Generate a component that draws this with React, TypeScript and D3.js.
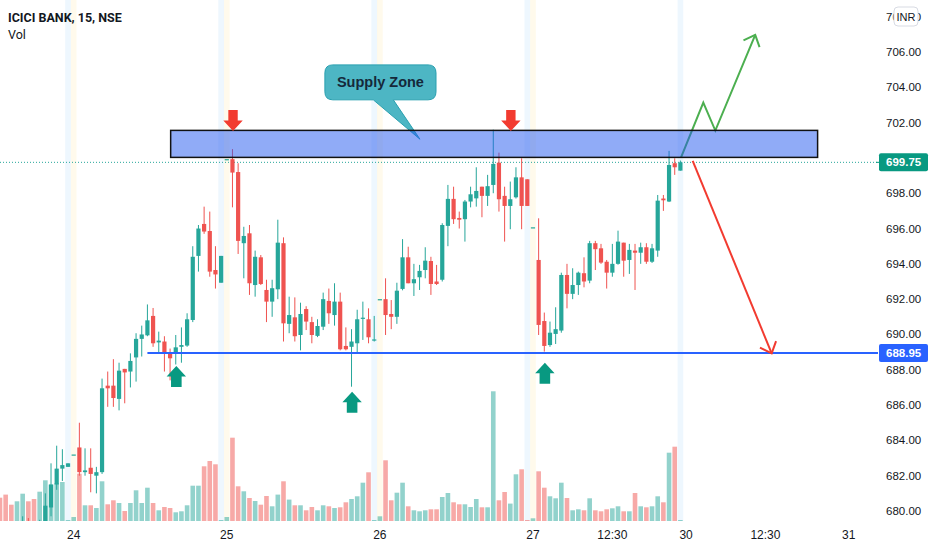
import React from "react";
import * as d3 from "d3";

// ---------- DATA (15-min bars, bar index 0 = 24th 09:00) ----------
const FIRST_BAR = -13;
const opens = [
  679.0, 678.7, 678.3, 678.0, 678.6, 679.3, 678.9, 678.7, 679.4, 680.2,
  681.5, 682.4, 682.5, 683.2, 683.6, 682.2, 682.45, 682.0, 682.2, 687.1,
  687.1, 686.35, 688.05, 687.9, 688.7, 689.75, 689.95, 691.05, 689.55, 689.6,
  688.95, 688.93, 689.3, 689.37, 690.82, 694.45, 696.26, 695.86, 693.65, 692.93,
  699.93, 699.93, 699.2, 695.17, 695.73, 692.8, 694.37, 692.52, 691.86, 692.56,
  695.17, 690.6, 690.97, 689.97, 691.44, 690.7, 689.92, 690.44, 691.9, 691.1,
  691.86, 689.35, 689.3, 689.5, 690.9, 690.86, 689.65, 692.0, 692.0, 691.16,
  691.0, 692.58, 694.37, 692.9, 693.24, 693.65, 694.16, 693.0, 693.1, 696.15,
  697.68, 696.6, 696.53, 697.53, 697.71, 698.37, 697.85, 698.47, 699.73, 697.85,
  697.28, 697.77, 698.9, 698.79, 696.07, 694.22, 690.76, 689.4, 690.03, 690.22,
  693.37, 692.3, 692.8, 693.47, 693.05, 695.17, 694.88, 694.12, 693.5, 694.0,
  695.2, 694.22, 694.75, 694.63, 694.94, 694.12, 694.75, 697.7, 697.53, 699.7,
  699.28,
];
const highs = [
  679.2, 679.0, 678.6, 678.9, 679.7, 679.6, 679.2, 679.5, 681.0, 682.7,
  683.7, 683.5, 682.7, 683.2, 685.0, 683.55, 683.55, 682.5, 687.5, 687.9,
  688.6, 688.4, 688.05, 688.93, 690.07, 690.5, 691.7, 691.5, 690.16, 689.9,
  689.2, 689.97, 690.4, 691.2, 695.0, 696.2, 697.24, 696.96, 695.0, 694.45,
  699.93, 700.5, 699.7, 696.1, 696.2, 694.75, 694.5, 693.1, 693.1, 696.5,
  695.5, 692.14, 692.1, 691.8, 691.6, 691.0, 690.86, 692.37, 692.6, 692.9,
  692.37, 690.4, 690.3, 691.4, 691.86, 691.48, 691.05, 692.0, 693.18, 691.95,
  692.93, 695.4, 694.97, 694.0, 693.94, 694.94, 694.4, 693.94, 696.3, 698.47,
  698.37, 696.96, 697.62, 698.37, 699.47, 698.37, 699.04, 701.6, 700.3, 698.37,
  698.66, 699.47, 699.98, 698.79, 696.07, 696.58, 691.24, 690.73, 691.54, 693.5,
  694.0, 693.75, 693.56, 694.37, 695.3, 695.3, 695.13, 694.22, 695.13, 695.88,
  695.2, 695.13, 695.13, 695.2, 695.17, 695.13, 697.9, 697.9, 700.4, 699.98,
  699.85,
];
const lows = [
  678.4, 678.0, 677.8, 677.9, 678.5, 678.7, 678.5, 678.6, 679.2, 679.7,
  681.2, 681.7, 682.5, 683.2, 682.0, 682.0, 681.06, 681.0, 682.1, 685.9,
  685.9, 685.7, 686.1, 687.0, 687.33, 688.75, 689.9, 689.3, 688.93, 687.9,
  687.4, 688.3, 688.4, 689.3, 690.7, 693.56, 695.7, 693.27, 692.6, 692.93,
  699.93, 697.2, 694.56, 693.18, 692.24, 692.14, 692.8, 690.7, 691.0, 692.0,
  689.6, 690.07, 689.6, 689.1, 690.25, 689.5, 689.85, 690.25, 690.6, 690.5,
  689.1, 689.1, 687.04, 688.93, 689.69, 689.5, 689.6, 692.0, 689.97, 690.3,
  690.6, 692.5, 692.9, 692.18, 692.52, 693.18, 692.24, 692.8, 693.0, 695.0,
  696.26, 696.0, 695.26, 697.2, 697.24, 696.64, 697.28, 698.0, 696.96, 695.26,
  695.96, 697.7, 695.96, 697.28, 696.07, 689.97, 689.03, 689.3, 689.46, 690.1,
  691.48, 692.0, 692.24, 692.67, 692.9, 693.65, 694.0, 692.6, 693.27, 693.95,
  693.27, 693.43, 692.52, 694.0, 694.0, 694.05, 694.4, 697.0, 697.5, 699.04,
  699.28,
];
const closes = [
  678.6, 678.3, 678.0, 678.6, 679.3, 678.9, 678.7, 679.4, 680.3, 681.5,
  682.4, 682.6, 682.7, 683.2, 682.2, 682.3, 682.1, 682.2, 686.95, 686.95,
  686.4, 687.95, 687.85, 688.5, 689.75, 690.0, 690.8, 689.5, 689.65, 688.95,
  688.65, 689.27, 689.4, 690.86, 694.4, 696.0, 695.83, 693.56, 693.4, 694.45,
  699.93, 699.17, 695.3, 695.58, 692.9, 694.4, 692.86, 691.86, 692.62, 695.2,
  690.63, 691.1, 689.9, 691.16, 690.73, 689.97, 690.48, 692.0, 691.2, 691.86,
  689.16, 689.16, 689.6, 690.86, 690.95, 689.84, 689.72, 692.0, 691.1, 691.0,
  692.48, 694.37, 692.9, 693.13, 693.6, 694.18, 692.86, 692.86, 696.2, 697.68,
  696.53, 696.5, 697.53, 697.94, 698.13, 697.85, 698.4, 699.66, 697.66, 697.28,
  697.66, 698.9, 697.28, 697.28, 696.07, 690.54, 689.35, 690.1, 690.3, 693.37,
  692.3, 692.8, 693.5, 693.0, 695.17, 694.83, 694.07, 693.5, 694.0, 695.26,
  694.18, 694.79, 694.63, 694.94, 694.12, 694.88, 697.58, 697.6, 699.6, 699.47,
  699.75,
];
const volumes = [
  233, 264, 163, 197, 273, 197, 220, 293, 407, 364,
  380, 390, 10, 40, 473, 157, 157, 130, 397, 167,
  207, 180, 100, 180, 307, 180, 333, 180, 107, 140,
  130, 87, 97, 157, 353, 353, 547, 600, 567, 10,
  40, 833, 347, 297, 230, 200, 163, 250, 147, 264,
  397, 214, 157, 157, 107, 140, 107, 157, 147, 130,
  137, 187, 220, 247, 383, 487, 10, 47, 607, 207,
  283, 383, 147, 107, 97, 107, 117, 117, 240, 280,
  187, 167, 167, 140, 220, 137, 137, 1297, 207, 290,
  174, 467, 517, 10, 27, 497, 333, 247, 227, 383,
  230, 107, 117, 107, 227, 107, 97, 117, 127, 147,
  97, 97, 280, 147, 137, 147, 247, 187, 683, 743,
  10,
];

const priceTicks = [680, 682, 684, 686, 688, 690, 692, 694, 696, 698, 700, 702, 704, 706, 708];
const timeTickLabels = ["24", "25", "26", "27", "12:30", "30", "12:30", "31"];
const timeTickBars = [0, 27, 54, 81, 95, 108, 122, 136.7];
const postMarketBars = [-1, 26, 53, 80, 107];
const preMarketBars = [0, 27, 54, 81];

const lastPrice = 699.75;
const supportPrice = 688.95;
const supportStartBar = 13;
const zoneBars = [17.1, 131.2];
const zonePrices = [700.03, 701.56];
const redMarkBars = [28.1, 77.1];
const redMarkPrice = 701.53;
const greenMarkBars = [18.1, 49.1, 83.1];
const greenMarkPrices = [688.21, 686.76, 688.4];
const bullPathBars = [107.1, 111.04, 113.16, 120.2];
const bullPathPrices = [700.02, 703.13, 701.55, 706.97];
const bearPathBars = [109.17, 123.1];
const bearPathPrices = [699.83, 688.93];
const calloutBars = [44.3, 63.9, 52.84, 56.37, 61.07];
const calloutPrices = [705.27, 703.29, 701.06];

// ---------- LAYOUT ----------
const W = 932;
const H = 550;
const PANE_R = 878;
const PANE_B = 521;
const BAR_STEP = 5.67;
const FONT = "'Liberation Sans', Arial, sans-serif";
const TITLE_FONT = "Roboto, 'Liberation Sans', Arial, sans-serif";
const UP = "#26a69a";
const DOWN = "#ef5350";

const x = d3.scaleLinear().domain([0, 108]).range([73.7, 73.7 + 108 * BAR_STEP]);
const y = d3.scaleLinear().domain([680, 706]).range([511, 52]);
const yVol = d3.scaleLinear().domain([0, 1300]).range([PANE_B, PANE_B - 130]);

const bars = opens.map((o, k) => ({
  i: FIRST_BAR + k,
  o,
  h: highs[k],
  l: lows[k],
  c: closes[k],
  v: volumes[k],
}));

function barbs(from: [number, number], tip: [number, number], len = 13, angDeg = 42) {
  const dx = from[0] - tip[0];
  const dy = from[1] - tip[1];
  const d = Math.hypot(dx, dy);
  const ux = dx / d;
  const uy = dy / d;
  const a = (angDeg * Math.PI) / 180;
  const rot = (s: number) => [
    tip[0] + len * (ux * Math.cos(s) - uy * Math.sin(s)),
    tip[1] + len * (ux * Math.sin(s) + uy * Math.cos(s)),
  ];
  const p1 = rot(a);
  const p2 = rot(-a);
  return `M${p1[0]},${p1[1]}L${tip[0]},${tip[1]}L${p2[0]},${p2[1]}`;
}

export default function App() {
  const line = d3.line<[number, number]>();

  const bullPts: [number, number][] = bullPathBars.map((b, k) => [x(b), y(bullPathPrices[k])]);
  const bearPts: [number, number][] = bearPathBars.map((b, k) => [x(b), y(bearPathPrices[k])]);

  const cx0 = x(calloutBars[0]);
  const cx1 = x(calloutBars[1]);
  const cy0 = y(calloutPrices[0]);
  const cy1 = y(calloutPrices[1]);
  const b1 = x(calloutBars[2]);
  const b2 = x(calloutBars[3]);
  const tx = x(calloutBars[4]);
  const ty = y(calloutPrices[2]);
  const r = 8;
  const calloutPath = `M${cx0 + r},${cy0}H${cx1 - r}Q${cx1},${cy0} ${cx1},${cy0 + r}V${cy1 - r}Q${cx1},${cy1} ${cx1 - r},${cy1}H${b2}L${tx},${ty}L${b1},${cy1}H${cx0 + r}Q${cx0},${cy1} ${cx0},${cy1 - r}V${cy0 + r}Q${cx0},${cy0} ${cx0 + r},${cy0}Z`;

  const downArrow = (cx: number, tipY: number) =>
    `M${cx - 4.7},${tipY - 21}H${cx + 4.7}V${tipY - 10.3}H${cx + 9.7}L${cx},${tipY}L${cx - 9.7},${tipY - 10.3}H${cx - 4.7}Z`;
  const upArrow = (cx: number, tipY: number) =>
    `M${cx},${tipY}L${cx + 9.7},${tipY + 10.5}H${cx + 5.3}V${tipY + 21}H${cx - 5.3}V${tipY + 10.5}H${cx - 9.7}Z`;

  return (
    <div>
      <style>{"body{margin:0;background:#fff}"}</style>
      <svg width={W} height={H} viewBox={`0 0 ${W} ${H}`} style={{ display: "block", background: "#fff" }}>
        <defs>
          <clipPath id="pane">
            <rect x={0} y={0} width={PANE_R} height={PANE_B} />
          </clipPath>
        </defs>
        <rect x={0} y={0} width={W} height={H} fill="#ffffff" />

        <g clipPath="url(#pane)">
          {postMarketBars.map((b) => (
            <rect key={"po" + b} x={x(b) - BAR_STEP / 2} y={0} width={BAR_STEP} height={PANE_B} fill="rgba(33,150,243,0.08)" />
          ))}
          {preMarketBars.map((b) => (
            <rect key={"pr" + b} x={x(b) - BAR_STEP / 2} y={0} width={BAR_STEP} height={PANE_B} fill="rgba(255,193,7,0.08)" />
          ))}

          {bars.map((d) => (
            <rect
              key={"v" + d.i}
              x={x(d.i) - 2.3}
              width={4.6}
              y={yVol(d.v)}
              height={PANE_B - yVol(d.v)}
              fill={d.c >= d.o ? "rgba(38,166,154,0.5)" : "rgba(239,83,80,0.5)"}
            />
          ))}

          <line x1={0} x2={PANE_R} y1={y(lastPrice)} y2={y(lastPrice)} stroke={UP} strokeWidth={1} strokeDasharray="1 2" />

          {bars.map((d) => {
            const col = d.c >= d.o ? UP : DOWN;
            const top = y(Math.max(d.o, d.c));
            const bot = y(Math.min(d.o, d.c));
            const cx = x(d.i);
            return (
              <g key={"c" + d.i}>
                <line x1={cx} x2={cx} y1={y(d.h)} y2={y(d.l)} stroke={col} strokeWidth={1} />
                <rect x={cx - 2.1} width={4.2} y={top} height={Math.max(1.2, bot - top)} fill={col} />
              </g>
            );
          })}

          <line x1={x(supportStartBar)} x2={PANE_R} y1={y(supportPrice)} y2={y(supportPrice)} stroke="#2962ff" strokeWidth={2} />

          {greenMarkBars.map((b, k) => (
            <path key={"g" + k} d={upArrow(x(b), y(greenMarkPrices[k]))} fill="#089981" />
          ))}

          <path d={calloutPath} fill="#4db6c4" stroke="#2aa0b0" strokeWidth={1} />
          <text
            x={(cx0 + cx1) / 2}
            y={(cy0 + cy1) / 2}
            textAnchor="middle"
            dominantBaseline="central"
            fontFamily={FONT}
            fontSize={14.5}
            fontWeight="bold"
            fill="#15293a"
          >
            Supply Zone
          </text>

          <path d={line(bullPts) || ""} fill="none" stroke="#4caf50" strokeWidth={2} strokeLinejoin="miter" />
          <path d={barbs(bullPts[2], bullPts[3])} fill="none" stroke="#4caf50" strokeWidth={2} />
          <path d={line(bearPts) || ""} fill="none" stroke="#f23b30" strokeWidth={2} />
          <path d={barbs(bearPts[0], bearPts[1])} fill="none" stroke="#f23b30" strokeWidth={2} />

          <rect
            x={x(zoneBars[0])}
            width={x(zoneBars[1]) - x(zoneBars[0])}
            y={y(zonePrices[1])}
            height={y(zonePrices[0]) - y(zonePrices[1])}
            fill="rgb(33,88,240)"
            fillOpacity={0.5}
            stroke="#111"
            strokeWidth={1.5}
          />

          {redMarkBars.map((b, k) => (
            <path key={"r" + k} d={downArrow(x(b), y(redMarkPrice))} fill="#f23b30" />
          ))}
        </g>

        {priceTicks.map((p) => (
          <text key={"p" + p} x={886} y={y(p)} dominantBaseline="central" fontFamily={FONT} fontSize={11.5} fill="#131722">
            {p.toFixed(2)}
          </text>
        ))}
        <rect x={894} y={7} width={24} height={19} rx={4} fill="#fff" stroke="#d8dbe3" strokeWidth={1} />
        <text x={906} y={16.5} textAnchor="middle" dominantBaseline="central" fontFamily={FONT} fontSize={11} fill="#131722">
          INR
        </text>

        <rect x={879} y={y(lastPrice) - 9} width={49} height={18} rx={2} fill="#089981" />
        <line x1={876} x2={882} y1={y(lastPrice)} y2={y(lastPrice)} stroke="#089981" strokeWidth={1} />
        <text x={886} y={y(lastPrice)} dominantBaseline="central" fontFamily={FONT} fontSize={11.5} fontWeight="bold" fill="#fff">
          {lastPrice.toFixed(2)}
        </text>
        <rect x={879} y={y(supportPrice) - 9} width={49} height={18} rx={2} fill="#2962ff" />
        <text x={886} y={y(supportPrice)} dominantBaseline="central" fontFamily={FONT} fontSize={11.5} fontWeight="bold" fill="#fff">
          {supportPrice.toFixed(2)}
        </text>

        {timeTickLabels.map((t, k) => (
          <text key={"t" + k} x={x(timeTickBars[k])} y={535} textAnchor="middle" dominantBaseline="central" fontFamily={FONT} fontSize={12} fill="#131722">
            {t}
          </text>
        ))}

        <text x={8} y={17} dominantBaseline="central" fontFamily={TITLE_FONT} fontSize={12.5} fontWeight="bold" fill="#131722">
          ICICI BANK, 15, NSE
        </text>
        <text x={8} y={34} dominantBaseline="central" fontFamily={TITLE_FONT} fontSize={12.5} fill="#131722">
          Vol
        </text>
      </svg>
    </div>
  );
}
